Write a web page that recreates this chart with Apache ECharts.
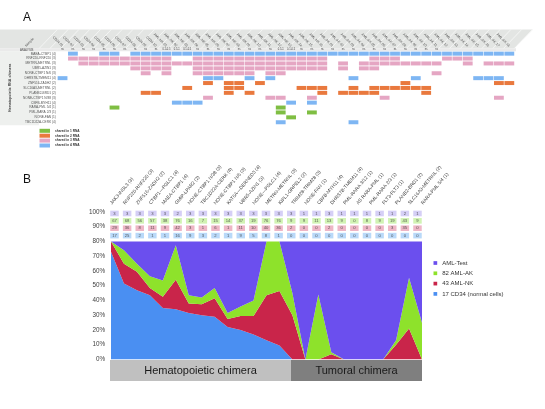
<!DOCTYPE html>
<html><head><meta charset="utf-8">
<script src="https://cdn.jsdelivr.net/npm/echarts@6/dist/echarts.min.js"></script>
<style>html,body{margin:0;padding:0;background:#fff}#c{width:545px;height:409px}</style>
</head><body><div id="c"></div><script>
// ---------- Panel A data ----------
const sampleNames = ["CD34 01","CD34 02","CD34 03","CD34 04","CD34 05","CD34 06","CD34 07","CD34 08","CD34 09","CD34 10",
 "AML-NK 01","AML-NK 02","AML-NK 03","AML-NK 04","AML-NK 05","AML-NK 06","AML-NK 07","AML-NK 08","AML-NK 09","AML-NK 10",
 "AML-NK 11","AML-NK 12","AML-NK 13","AML-NK 14","AML-NK 15","AML-NK 16",
 "AML-AK 01","AML-AK 02","AML-AK 03","AML-AK 04","AML-AK 05","AML-AK 06","AML-AK 07","AML-AK 08","AML-AK 09","AML-AK 10",
 "AML-AK 11","AML-AK 12","AML-AK 13","AML-AK 14","AML-AK 15","AML-AK 16","AML-AK 17","AML-AK 18"];
const pValues = ["ns","ns","ns","ns","ns","ns","ns","ns","ns","ns","0.1-0.5","0.5-1","0.1-0.5","ns","ns","ns","ns","ns","ns","ns",
 "ns","0.5-1","0.1-0.5","ns","ns","ns","ns","ns","ns","ns","ns","ns","ns","ns","ns","ns","ns","","","","","","",""];
const rowNames = ["MAEA-CTBP1 (4)","RNF220-RNF220 (3)","METRN-METRNL (3)","UBR5-AZIN1 (3)","NONE-CTBP1 N/6 (3)",
 "DHRS7B-TMEM11 (4)","ZNF516-ZADH2 (2)","SLC16A3-METRNL (2)","PLANB2-BRD1 (2)","NONE-CTBP1 N/38 (3)",
 "CBFB-MYH11 (4)","RARA-PML 5/4 (1)","PML-RARA 2/3 (1)","NONE-FAN (1)","TBC1D22A-CERK (4)"];
const rowShared = [4,3,3,3,3,4,2,2,2,3,4,1,1,1,4];
const rowCells = [
 [1,4,5,7,8,9,10,11,12,13,14,15,16,17,18,19,20,21,22,23,24,25,26,27,28,29,30,31,32,33,34,35,36,37,38,39,40,41,42,43],
 [1,2,3,4,5,6,7,8,9,10,13,14,15,16,17,18,19,20,21,22,23,24,25,30,31,32,37,38,39],
 [2,3,4,5,6,7,8,9,10,11,12,13,14,15,16,17,18,19,20,21,22,23,24,25,27,29,30,31,32,33,34,35,36,39,41,42,43],
 [7,8,9,10,13,14,15,16,17,18,19,20,21,22,23,24,25,27,29,30],
 [8,10,13,14,15,16,17,18,20,21,36],
 [0,14,15,18,20,28,34,40,41,42],
 [14,16,17,19,33,42,43],
 [12,16,17,23,24,25,28,30,31,32,33,34,35],
 [8,9,16,18,25,27,28,29,30,35],
 [14,20,21,24,31,42],
 [11,12,13,22,24],
 [5,21],
 [21,24],
 [22],
 [21,28]
];
const sharedNames = ["shared in 1 RNA","shared in 2 RNA","shared in 3 RNA","shared in 4 RNA"];
const sharedColors = ["#5fae14","#e4580e","#de90b4","#5ea4f0"];

// ---------- Panel B data ----------
const chimeras = ["JAK3-INSL3 (3)","RNF220-RNF220 (3)","ZNF516-ZADH2 (2)","CTBP1—PGLC1 (4)","MAEA-CTBP1 (4)","GMIP-LPAR2 (2)",
 "NONE-CTBP1 N/38 (3)","TBC1D22A-CERK (4)","NONE-CTBP1 N/6 (3)","KAT6A—DERNED3 (4)","UBR5-AZIN1 (3)","NONE—PGLC1 (4)",
 "METRN-METRNL (3)","KIFL1-GRPEL2 (2)","TRIM28-TRIM28 (3)","NONE-FAN (1)","CBFB-MYH11 (4)","DHRS7B-TMEM11 (4)",
 "PML-RARA 3/12 (1)","AS RARA-PML (1)","PML-RARA 2/3 (1)","FLT3-FLT3 (1)","PLANB2-BRD1 (2)","SLC16A3-METRNL (2)","RARA-PML 5/4 (1)"];
const areaCD34 = [73,51.5,47,43.5,35,34,31.5,30,29,22,20,17,13,9.5,0,0,0,0,0,0,0,0,0,0,0];
const areaNK   = [7,13.5,12.5,5,7.5,20,6.5,7.5,12.5,5.5,9.5,12.5,30.5,37,30,0,0,3.5,0,0,0,0,10,21,0];
const areaAK   = [0,9,5.5,8,11,23.5,5.5,4.5,7,4,6.5,10.5,36.5,33.5,15,0,44,1.5,0,0,0,0,3,34.5,25];
const areaTest = [0,6,15,23.5,26.5,2.5,36.5,38,31.5,48.5,44,40,0,0,35,80,36,75,80,80,80,80,67,24.5,55];
const tabTest = [3,3,3,3,3,2,3,3,3,3,3,3,3,3,3,1,1,3,1,1,1,1,1,2,1];
const tabAK   = [67,68,56,57,38,76,16,7,15,14,37,19,76,76,9,9,11,13,9,0,8,9,19,43,9];
const tabNK   = [29,36,8,11,9,42,3,1,6,1,11,10,40,36,2,0,0,2,0,0,0,0,3,35,0];
const tabCD34 = [17,25,2,1,1,16,9,3,2,1,9,5,8,1,0,0,0,0,0,0,0,0,0,0,0];
const seriesNames = ["17 CD34 (normal cells)","43 AML-NK","82 AML-AK","AML-Test"];
const seriesColors = ["#4a8ff2","#c9254a","#8ee22b","#6b4fee"];
const tableColors = ["#a8d0f8","#eaa4b8","#c6f0a0","#cbc3f4"];

const chart = echarts.init(document.getElementById('c'));
const FONT = 'Liberation Sans';

// panel A series
const seriesA = sharedNames.map((nm, k) => {
  const data = [];
  rowCells.forEach((cols, r) => { if (rowShared[r] === k + 1) cols.forEach(c => data.push([c, r])); });
  return {name: nm, type: 'scatter', xAxisIndex: 0, yAxisIndex: 0, symbol: 'rect', symbolSize: [9.8, 4.0],
    itemStyle: {color: sharedColors[k]}, data: data, animation: false, silent: true};
});
// panel B area series
const areas = [areaCD34, areaNK, areaAK, areaTest];
const seriesB = areas.map((arr, k) => ({
  name: seriesNames[k], type: 'line', xAxisIndex: 2, yAxisIndex: 1, stack: 'b', symbol: 'none',
  lineStyle: {width: 0, opacity: 0}, itemStyle: {color: seriesColors[k]},
  areaStyle: {color: seriesColors[k], opacity: 1}, data: arr, animation: false
}));
// panel B data table
const tables = [tabCD34, tabNK, tabAK, tabTest];
const tableRowY = [84, 89, 94, 99];
const seriesT = tables.map((arr, k) => ({
  type: 'scatter', xAxisIndex: 3, yAxisIndex: 1, symbol: 'rect', symbolSize: [8.5, 5.6],
  itemStyle: {color: tableColors[k]}, animation: false, silent: true,
  label: {show: true, position: 'inside', formatter: p => p.value[2], fontSize: 4.2, color: '#333', fontFamily: FONT},
  data: arr.map((v, i) => [i, tableRowY[k], v])
}));

const colX0 = 39.3, colW = 10.8;
const graphics = [
  {type:'text', left: 23, top: 12, style:{text:'A', font:'12px '+FONT, fill:'#111'}},
  {type:'text', left: 23, top: 174, style:{text:'B', font:'12px '+FONT, fill:'#111'}},
  {type:'polygon', shape:{points:[[0,29.5],[533,29.5],[514.5,48.3],[0,48.3]]}, style:{fill:'#e3e5e3'}, z:-5},
  {type:'rect', shape:{x:0,y:48.3,width:516,height:3}, style:{fill:'#eaeaea'}, z:-5},
  {type:'rect', shape:{x:0,y:51.2,width:39,height:74}, style:{fill:'#eef0ee'}, z:-5},
  {type:'text', x: 24, y: 45, rotation: Math.PI/4, style:{text:'sample', font:'3.5px '+FONT, fill:'#555'}},
  {type:'text', x: 20, y: 48.6, style:{text:'ANALYSIS', font:'2.8px '+FONT, fill:'#444'}},
  {type:'rect', shape:{x:110,y:360,width:181,height:21}, style:{fill:'#c0c0c0'}},
  {type:'rect', shape:{x:291,y:360,width:131,height:21}, style:{fill:'#7f7f7f'}},
  {type:'text', x: 200.5, y: 370.5, style:{text:'Hematopoietic chimera', font:'11px '+FONT, fill:'#1a1a1a', textAlign:'center', textVerticalAlign:'middle'}},
  {type:'text', x: 356.5, y: 370.5, style:{text:'Tumoral chimera', font:'11px '+FONT, fill:'#1a1a1a', textAlign:'center', textVerticalAlign:'middle'}}
];
for (let c = 0; c <= 44; c++) {
  const x = colX0 + c * colW;
  graphics.push({type:'line', shape:{x1:x, y1:48.3, x2:x+18, y2:29.5}, style:{stroke:'#fff', lineWidth:0.6}, z:-4});
}

chart.setOption({
  animation: false,
  textStyle: {fontFamily: FONT},
  grid: [
    {left: colX0, top: 51.2, width: colW * 44, height: 73.5},
    {left: 111, top: 212, width: 311, height: 147.5}
  ],
  xAxis: [
    {gridIndex: 0, type: 'category', data: sampleNames, position: 'top', offset: 3,
     axisLine: {show: false}, axisTick: {show: false}, splitLine: {show: false},
     axisLabel: {interval: 0, rotate: 45, fontSize: 3.4, margin: 2, color: '#555'}},
    {gridIndex: 0, type: 'category', data: pValues, position: 'top', offset: 0,
     axisLine: {show: false}, axisTick: {show: false}, splitLine: {show: false},
     axisLabel: {interval: 0, fontSize: 2.6, margin: 0.8, color: '#444'}},
    {gridIndex: 1, type: 'category', data: chimeras, boundaryGap: false, position: 'top',
     axisLine: {show: false}, axisTick: {show: false}, splitLine: {show: false},
     axisLabel: {interval: 0, rotate: 50, fontSize: 4.8, margin: 8, color: '#404040'}},
    {gridIndex: 1, type: 'value', min: -0.277, max: 24.357, show: false}
  ],
  yAxis: [
    {gridIndex: 0, type: 'category', data: rowNames, inverse: true,
     axisLine: {show: false}, axisTick: {show: false}, splitLine: {show: false},
     axisLabel: {interval: 0, fontSize: 3.2, margin: 1.5, color: '#555'},
     name: 'Hematopoietic RNA chimera', nameLocation: 'middle', nameRotate: 90, nameGap: 35,
     nameTextStyle: {fontSize: 3.6, fontWeight: 'bold', color: '#444'}},
    {gridIndex: 1, type: 'value', min: 0, max: 100, interval: 10,
     axisLine: {show: false}, axisTick: {show: false}, splitLine: {show: false},
     axisLabel: {formatter: '{value}%', fontSize: 6.3, margin: 6, color: '#404040'}}
  ],
  legend: [
    {data: sharedNames, orient: 'vertical', left: 39.5, top: 128.8, icon: 'rect', itemWidth: 10.5, itemHeight: 4,
     itemGap: 0.9, padding: 0, selectedMode: false, textStyle: {fontSize: 3.2, color: '#333', fontWeight: 'bold'}},
    {data: ["AML-Test","82 AML-AK","43 AML-NK","17 CD34 (normal cells)"], orient: 'vertical', left: 433.5, top: 260,
     icon: 'rect', itemWidth: 3.7, itemHeight: 3.7, itemGap: 4.3, padding: 0, selectedMode: false,
     textStyle: {fontSize: 6, color: '#333'}}
  ],
  graphic: graphics,
  series: [...seriesA, ...seriesB, ...seriesT]
});
</script></body></html>
